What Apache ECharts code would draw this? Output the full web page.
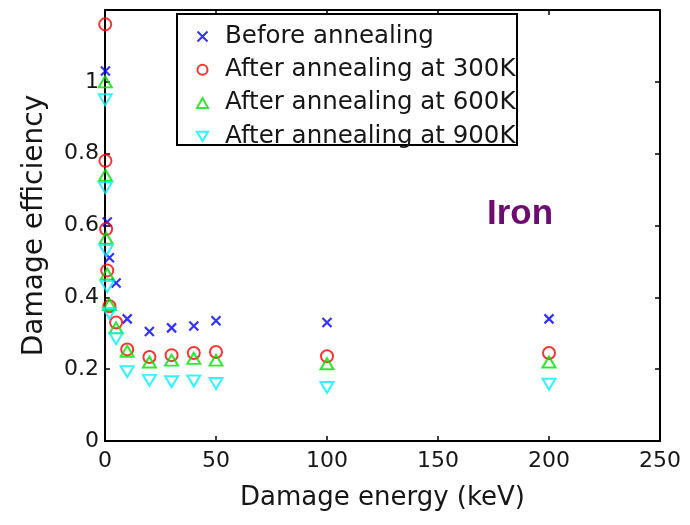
<!DOCTYPE html>
<html>
<head>
<meta charset="utf-8">
<script src="https://cdn.jsdelivr.net/npm/echarts@6/dist/echarts.min.js"></script>
<style>
  html, body { margin: 0; padding: 0; background: #fff; }
  #chart { width: 690px; height: 525px; }
</style>
</head>
<body>
<div id="chart"></div>
<script>
// Damage energy (keV) at which each state was evaluated
const energyBefore = [0.2, 1, 2, 5, 10, 20, 30, 40, 50, 100, 200];
const energyAnnealed = [0.1, 0.2, 0.5, 1, 2, 5, 10, 20, 30, 40, 50, 100, 200];

// Damage efficiency values
const beforeAnnealing = [1.03, 0.61, 0.51, 0.44, 0.34, 0.305, 0.315, 0.32, 0.335, 0.33, 0.34];
const annealed300K = [1.16, 0.78, 0.59, 0.475, 0.375, 0.33, 0.255, 0.234, 0.239, 0.245, 0.248, 0.236, 0.245];
const annealed600K = [1.0, 0.74, 0.565, 0.465, 0.38, 0.315, 0.25, 0.22, 0.225, 0.23, 0.225, 0.215, 0.22];
const annealed900K = [0.95, 0.705, 0.53, 0.43, 0.355, 0.285, 0.193, 0.169, 0.165, 0.167, 0.16, 0.149, 0.158];

const seriesNames = ['Before annealing', 'After annealing at 300K', 'After annealing at 600K', 'After annealing at 900K'];
const xTicks = { min: 0, max: 250, step: 50 };
const yTicks = { min: 0, max: 1.2, step: 0.2, lastLabelled: 1.0 };

const pairs = (xs, ys) => xs.map((x, i) => [x, ys[i]]);

const FONT = 'DejaVu Sans';
const TEXT = '#161616';
const crossPath = 'path://M0,0L10,10M10,0L0,10';
const downTrianglePath = 'path://M0,0L12,0L6,10Z';

const frameAxis = (extra) => Object.assign({
  type: 'value',
  axisLine: { show: true, onZero: false, lineStyle: { color: '#000', width: 2 } },
  axisTick: { show: true, inside: true, length: 5, lineStyle: { color: '#000', width: 1.5 } },
  splitLine: { show: false }
}, extra);

const chart = echarts.init(document.getElementById('chart'));
chart.setOption({
  backgroundColor: '#fff',
  animation: false,
  grid: { left: 105, right: 30, top: 10, bottom: 84 },
  xAxis: [
    frameAxis({
      position: 'bottom', min: xTicks.min, max: xTicks.max, interval: xTicks.step,
      name: 'Damage energy (keV)', nameLocation: 'middle', nameGap: 44,
      nameTextStyle: { fontFamily: FONT, fontSize: 26, color: TEXT },
      axisLabel: { fontFamily: FONT, fontSize: 22, color: TEXT, margin: 9 }
    }),
    frameAxis({
      position: 'top', min: xTicks.min, max: xTicks.max, interval: xTicks.step,
      axisLabel: { show: false }
    })
  ],
  yAxis: [
    frameAxis({
      position: 'left', min: yTicks.min, max: yTicks.max, interval: yTicks.step,
      name: 'Damage efficiency', nameLocation: 'middle', nameGap: 56,
      nameTextStyle: { fontFamily: FONT, fontSize: 28, color: TEXT },
      axisLabel: {
        fontFamily: FONT, fontSize: 22, color: TEXT, margin: 6,
        formatter: v => (v > yTicks.lastLabelled + 1e-9 ? '' : String(+v.toFixed(1)))
      }
    }),
    frameAxis({
      position: 'right', min: yTicks.min, max: yTicks.max, interval: yTicks.step,
      axisLabel: { show: false }
    })
  ],
  legend: {
    orient: 'vertical',
    left: 196, top: 24, padding: 0,
    itemWidth: 11, itemHeight: 10, itemGap: 8.3,
    symbolKeepAspect: true,
    z: 10,
    textStyle: { fontFamily: FONT, fontSize: 24.5, lineHeight: 24, color: TEXT, padding: [0, 0, 0, 12] },
    data: [
      { name: seriesNames[0] },
      { name: seriesNames[1] },
      { name: seriesNames[2] },
      { name: seriesNames[3], icon: downTrianglePath }
    ]
  },
  graphic: [
    {
      type: 'rect', z: 3,
      shape: { x: 177, y: 14, width: 340, height: 131 },
      style: { fill: '#fff', stroke: '#000', lineWidth: 2 }
    },
    {
      type: 'text', z: 5, x: 487, y: 214,
      style: { text: 'Iron', font: 'bold 35px "Liberation Sans"', fill: '#6d0b6e', verticalAlign: 'middle' }
    }
  ],
  series: [
    {
      name: seriesNames[0], type: 'scatter', data: pairs(energyBefore, beforeAnnealing),
      symbol: crossPath, symbolSize: 9,
      itemStyle: { color: 'rgba(0,0,0,0)', borderColor: '#0000ff', borderWidth: 2.2 }
    },
    {
      name: seriesNames[1], type: 'scatter', data: pairs(energyAnnealed, annealed300K),
      symbol: 'circle', symbolSize: 12,
      itemStyle: { color: 'rgba(0,0,0,0)', borderColor: '#ff0000', borderWidth: 2 }
    },
    {
      name: seriesNames[2], type: 'scatter', data: pairs(energyAnnealed, annealed600K),
      symbol: 'triangle', symbolSize: [13, 11],
      itemStyle: { color: 'rgba(0,0,0,0)', borderColor: '#00e000', borderWidth: 2 }
    },
    {
      name: seriesNames[3], type: 'scatter', data: pairs(energyAnnealed, annealed900K),
      symbol: downTrianglePath, symbolSize: [13, 11],
      itemStyle: { color: 'rgba(0,0,0,0)', borderColor: '#00f0ff', borderWidth: 2 }
    }
  ]
});
</script>
</body>
</html>
